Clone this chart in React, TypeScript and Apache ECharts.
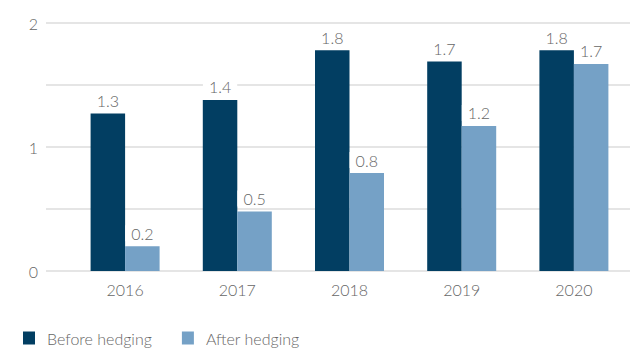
import React, { useEffect, useRef } from "react";
import * as echarts from "echarts";

const categories = ["2016", "2017", "2018", "2019", "2020"];
const beforeHedging = [1.27, 1.38, 1.78, 1.69, 1.78];
const afterHedging = [0.2, 0.48, 0.79, 1.17, 1.67];
const seriesNames = ["Before hedging", "After hedging"];

const FONT = "Lato, 'Open Sans', sans-serif";
const DARK = "#023e62";
const LIGHT = "#75a1c6";
const TEXT = "#666666";
const FS = 16;
const FW = 300;

export default function App() {
  const ref = useRef<HTMLDivElement>(null);
  useEffect(() => {
    document.body.style.margin = "0";
    if (!ref.current) return;
    const chart = echarts.init(ref.current, undefined, { renderer: "svg" });
    const labelStyle = {
      show: true,
      position: "top" as const,
      distance: 5,
      color: TEXT,
      fontSize: FS,
      fontWeight: FW,
      fontFamily: FONT,
      backgroundColor: "#ffffff",
      padding: [0, 6],
      formatter: (p: any) => p.value.toFixed(1),
    };
    chart.setOption({
      animation: false,
      textStyle: { fontFamily: FONT },
      grid: [
        { left: 46, right: 0, top: 23, bottom: 77 },
        { left: 69, width: 562, top: 23, bottom: 77 },
      ],
      legend: {
        data: seriesNames,
        left: 23,
        top: 329,
        padding: 0,
        icon: "rect",
        itemWidth: 12,
        itemHeight: 13,
        itemGap: 30,
        textStyle: {
          color: TEXT,
          fontSize: FS,
          fontWeight: FW,
          fontFamily: FONT,
          lineHeight: 18,
          padding: [0, 0, 0, 7],
        },
      },
      xAxis: [
        {
          type: "category",
          gridIndex: 0,
          data: categories,
          show: false,
        },
        {
          type: "category",
          gridIndex: 1,
          data: categories,
          axisLine: { show: false },
          axisTick: { show: false },
          axisLabel: { color: TEXT, fontSize: FS, fontWeight: FW, fontFamily: FONT, margin: 10 },
        },
      ],
      yAxis: [
        {
          type: "value",
          gridIndex: 0,
          min: 0,
          max: 2,
          interval: 0.5,
          axisLine: { show: false },
          axisTick: { show: false },
          axisLabel: {
            color: TEXT,
            fontSize: FS,
            fontWeight: FW,
            fontFamily: FONT,
            margin: 8,
            formatter: (v: number) => (Number.isInteger(v) ? String(v) : ""),
          },
          splitLine: { lineStyle: { color: "#dcdcdc", width: 1.5 } },
        },
        {
          type: "value",
          gridIndex: 1,
          min: 0,
          max: 2,
          interval: 0.5,
          show: false,
          splitLine: { show: false },
        },
      ],
      series: [
        {
          name: seriesNames[0],
          type: "bar",
          xAxisIndex: 1,
          yAxisIndex: 1,
          data: beforeHedging,
          barWidth: 34.5,
          barGap: "0%",
          itemStyle: { color: DARK },
          label: labelStyle,
        },
        {
          name: seriesNames[1],
          type: "bar",
          xAxisIndex: 1,
          yAxisIndex: 1,
          data: afterHedging,
          barWidth: 34.5,
          barGap: "0%",
          itemStyle: { color: LIGHT },
          label: labelStyle,
        },
      ],
    });
    return () => chart.dispose();
  }, []);
  return <div ref={ref} style={{ width: 630, height: 348 }} />;
}
